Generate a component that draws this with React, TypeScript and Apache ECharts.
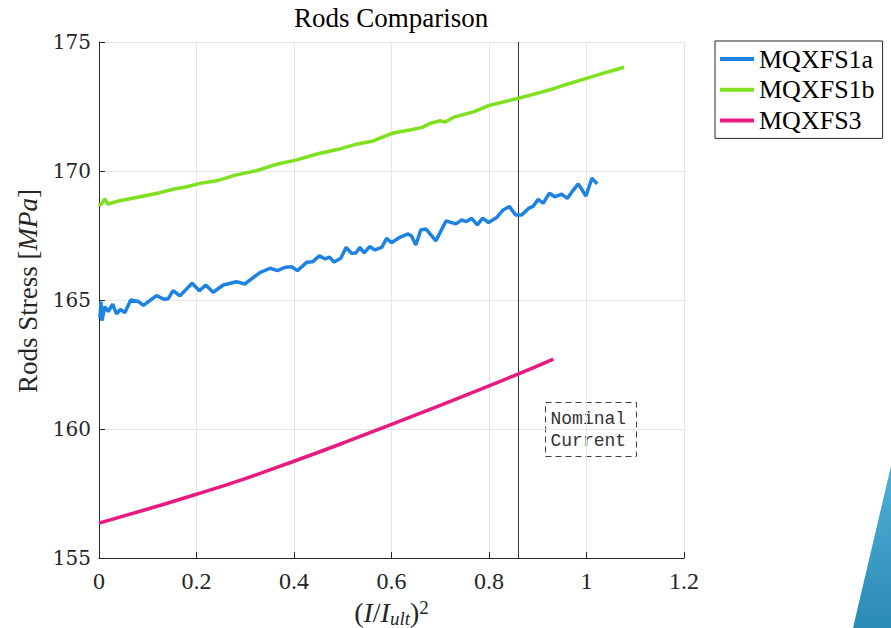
import React, { useEffect, useRef } from "react";
import * as echarts from "echarts";

const title = "Rods Comparison";
const seriesNames = ["MQXFS1a", "MQXFS1b", "MQXFS3"];
const seriesColors = ["#1e82e3", "#7fe11e", "#e8197f"];
const xTicks = [0, 0.2, 0.4, 0.6, 0.8, 1, 1.2];
const yTicks = [155, 160, 165, 170, 175];
const nominalCurrent = 0.86;

const blueX = [0.0, 0.002, 0.004, 0.006, 0.012, 0.019, 0.028, 0.036, 0.044, 0.053, 0.065, 0.081, 0.091, 0.118, 0.133, 0.142, 0.152, 0.166, 0.191, 0.206, 0.219, 0.234, 0.255, 0.282, 0.299, 0.33, 0.351, 0.366, 0.382, 0.395, 0.407, 0.426, 0.438, 0.452, 0.464, 0.473, 0.482, 0.496, 0.507, 0.518, 0.527, 0.535, 0.544, 0.555, 0.566, 0.58, 0.59, 0.6, 0.617, 0.634, 0.641, 0.65, 0.66, 0.671, 0.691, 0.712, 0.732, 0.744, 0.754, 0.764, 0.776, 0.787, 0.799, 0.816, 0.829, 0.842, 0.855, 0.867, 0.881, 0.891, 0.901, 0.911, 0.924, 0.935, 0.949, 0.961, 0.973, 0.983, 0.999, 1.011, 1.022];
const blueY = [164.3, 164.35, 164.94, 164.2, 164.74, 164.55, 164.84, 164.46, 164.64, 164.51, 165.0, 164.94, 164.79, 165.17, 165.03, 165.05, 165.36, 165.16, 165.65, 165.36, 165.58, 165.3, 165.58, 165.71, 165.62, 166.06, 166.23, 166.14, 166.27, 166.29, 166.14, 166.46, 166.48, 166.71, 166.59, 166.66, 166.47, 166.62, 167.04, 166.81, 166.82, 167.04, 166.83, 167.07, 166.94, 167.04, 167.39, 167.22, 167.43, 167.56, 167.48, 167.13, 167.71, 167.75, 167.29, 168.07, 167.95, 168.1, 168.04, 168.17, 167.91, 168.17, 168.0, 168.2, 168.49, 168.62, 168.29, 168.29, 168.55, 168.64, 168.9, 168.75, 169.14, 169.0, 169.1, 168.94, 169.26, 169.5, 169.03, 169.72, 169.5];

const greenX = [0.0, 0.006, 0.012, 0.018, 0.043, 0.084, 0.125, 0.152, 0.18, 0.207, 0.241, 0.282, 0.323, 0.364, 0.406, 0.447, 0.491, 0.53, 0.56, 0.601, 0.64, 0.663, 0.68, 0.7, 0.71, 0.73, 0.77, 0.8, 0.83, 0.861, 0.9, 0.934, 0.97, 1.0, 1.04, 1.077];
const greenY = [168.65, 168.75, 168.92, 168.72, 168.85, 169.0, 169.16, 169.29, 169.39, 169.52, 169.62, 169.85, 170.01, 170.26, 170.43, 170.66, 170.84, 171.05, 171.15, 171.46, 171.6, 171.69, 171.85, 171.95, 171.9, 172.1, 172.3, 172.54, 172.68, 172.82, 173.02, 173.2, 173.42, 173.59, 173.82, 174.02];

const pinkX = [0.0, 0.1, 0.2, 0.3, 0.4, 0.5, 0.6, 0.7, 0.8, 0.9, 0.932];
const pinkY = [156.35, 156.9, 157.47, 158.08, 158.75, 159.45, 160.18, 160.92, 161.67, 162.45, 162.71];

const zip = (xs: number[], ys: number[]) => xs.map((x, i) => [x, ys[i]]);

export default function App() {
  const ref = useRef<HTMLDivElement>(null);
  useEffect(() => {
    document.body.style.margin = "0";
    const chart = echarts.init(ref.current!, null, { renderer: "svg" });
    const serif = "Liberation Serif";
    const dataSets = [zip(blueX, blueY), zip(greenX, greenY), zip(pinkX, pinkY)];
    chart.setOption({
      animation: false,
      backgroundColor: "#ffffff",
      title: {
        text: title,
        left: 391,
        textAlign: "center",
        top: 4,
        padding: 0,
        textStyle: { fontFamily: serif, fontSize: 27, fontWeight: "normal", color: "#000" },
      },
      legend: {
        orient: "vertical",
        left: 715,
        top: 41,
        padding: [5, 8, 5, 5],
        itemGap: 4.7,
        itemWidth: 34,
        itemHeight: 4,
        icon: "rect",
        borderColor: "#262626",
        borderWidth: 1,
        backgroundColor: "#fff",
        data: seriesNames,
        textStyle: { fontFamily: serif, fontSize: 26, color: "#000", lineHeight: 26 },
      },
      grid: { left: 99, top: 42, width: 585, height: 516, containLabel: false, outerBoundsMode: "none" },
      xAxis: {
        type: "value",
        min: xTicks[0],
        max: xTicks[xTicks.length - 1],
        interval: 0.2,
        name: "{p|(}{i|I}{p|/}{i|I}{sub|ult}{p|)}{sup|2}",
        nameLocation: "middle",
        nameGap: 36,
        nameTextStyle: {
          lineHeight: 30,
          rich: {
            p: { fontFamily: serif, fontSize: 28, color: "#262626", lineHeight: 30 },
            i: { fontFamily: serif, fontSize: 28, fontStyle: "italic", color: "#262626", lineHeight: 30 },
            sub: { fontFamily: serif, fontSize: 19, fontStyle: "italic", color: "#262626", verticalAlign: "bottom", lineHeight: 30 },
            sup: { fontFamily: serif, fontSize: 19, color: "#262626", verticalAlign: "top", lineHeight: 30 },
          },
        },
        axisLine: { show: true, onZero: false, lineStyle: { color: "#262626", width: 1 } },
        axisTick: { show: true, inside: true, length: 6, lineStyle: { color: "#262626" } },
        axisLabel: {
          margin: 11,
          fontFamily: serif,
          fontSize: 24,
          color: "#262626",
          formatter: (v: number) => String(Math.round(v * 10) / 10),
        },
        splitLine: { show: true, lineStyle: { color: "#e6e6e6", width: 1 } },
      },
      yAxis: {
        type: "value",
        min: yTicks[0],
        max: yTicks[yTicks.length - 1],
        interval: 5,
        name: "{p|Rods Stress [}{i|MPa}{p|]}",
        nameLocation: "middle",
        nameGap: 56,
        nameTextStyle: {
          padding: [0, 0, 0, 18],
          rich: {
            p: { fontFamily: serif, fontSize: 27, color: "#262626" },
            i: { fontFamily: serif, fontSize: 27, fontStyle: "italic", color: "#262626" },
          },
        },
        axisLine: { show: true, onZero: false, lineStyle: { color: "#262626", width: 1 } },
        axisTick: { show: true, inside: true, length: 6, lineStyle: { color: "#262626" } },
        axisLabel: { margin: 8, fontFamily: "DejaVu Serif", fontSize: 20, color: "#262626" },
        splitLine: { show: true, lineStyle: { color: "#e6e6e6", width: 1 } },
      },
      series: seriesNames.map((name, i) => ({
        name,
        type: "line",
        data: dataSets[i],
        showSymbol: false,
        symbol: "none",
        smooth: i === 2,
        color: seriesColors[i],
        lineStyle: { color: seriesColors[i], width: 3.5 },
        z: 3,
        markLine:
          i === 0
            ? {
                silent: true,
                symbol: ["none", "none"],
                label: { show: false },
                lineStyle: { color: "#333333", width: 1, type: "solid" },
                data: [{ xAxis: nominalCurrent }],
                z: 2,
              }
            : undefined,
      })),
      graphic: [
        {
          type: "group",
          left: 545,
          top: 402,
          children: [
            {
              type: "rect",
              shape: { x: 0, y: 0, width: 91, height: 54 },
              style: { fill: "#ffffff", stroke: "#404040", lineWidth: 1, lineDash: [6, 4] },
            },
            {
              type: "text",
              x: 5,
              y: 5,
              style: {
                text: "Nominal\nCurrent",
                fontFamily: "Liberation Mono",
                fontSize: 18,
                lineHeight: 22,
                fill: "#333333",
              },
            },
          ],
        },
        {
          type: "polygon",
          shape: { points: [[891, 466], [853, 628], [891, 628]] },
          style: {
            fill: new echarts.graphic.LinearGradient(0, 0, 0, 1, [
              { offset: 0, color: "#52b0d6" },
              { offset: 1, color: "#2a8ab6" },
            ]),
          },
        },
      ],
    });
    return () => chart.dispose();
  }, []);
  return <div ref={ref} style={{ width: 891, height: 628 }} />;
}
